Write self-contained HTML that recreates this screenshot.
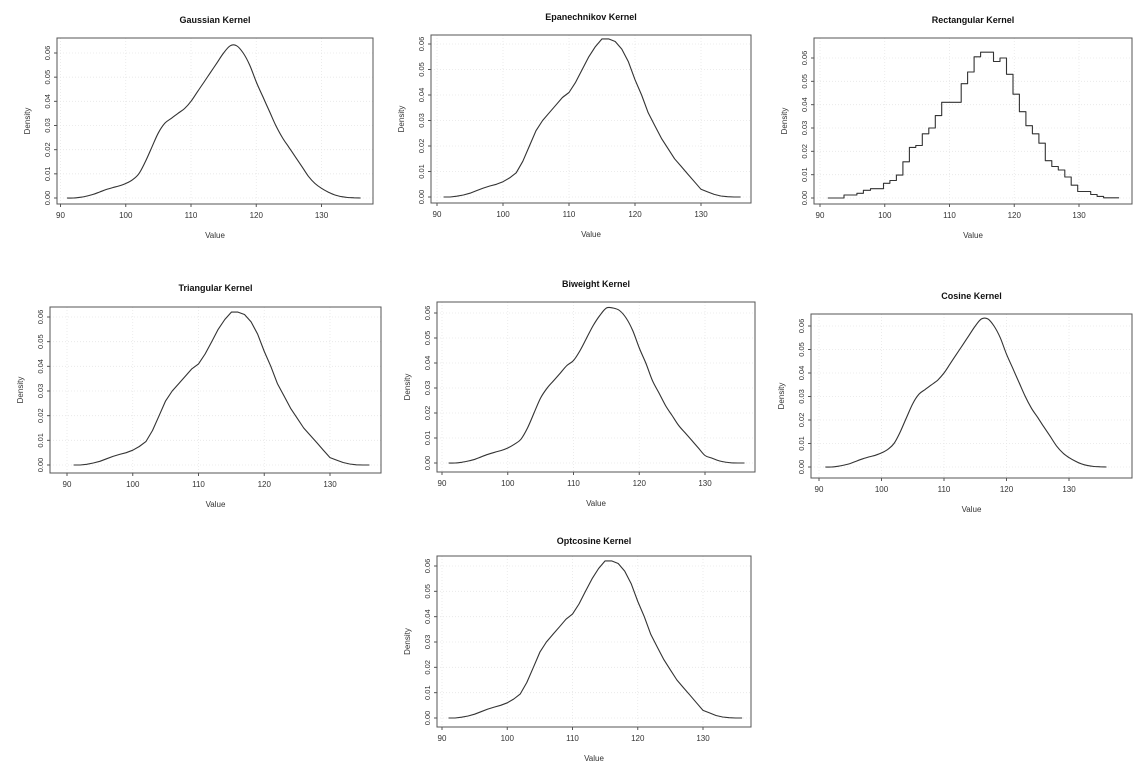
<!DOCTYPE html>
<html><head><meta charset="utf-8"><style>
body{margin:0;background:#fff;}
svg{display:block;font-family:"Liberation Sans",sans-serif;}
</style></head><body>
<svg id="c" width="1143" height="773"></svg>
<script>
const xValues=[91,92,93,94,95,96,97,98,99,100,101,102,103,104,105,106,107,108,109,110,111,112,113,114,115,116,117,118,119,120,121,122,123,124,125,126,127,128,129,130,131,132,133,134,135,136];
const gaussianDensity=[0,0,0.0003,0.0008,0.0015,0.0025,0.0035,0.0043,0.005,0.006,0.0075,0.01,0.015,0.021,0.027,0.031,0.033,0.035,0.037,0.040,0.044,0.048,0.052,0.056,0.060,0.063,0.063,0.060,0.055,0.048,0.042,0.036,0.030,0.025,0.021,0.017,0.013,0.009,0.006,0.004,0.0025,0.0013,0.0006,0.0002,0.0001,0];
const compactDensity=[0,0,0.0003,0.0008,0.0015,0.0025,0.0035,0.0043,0.005,0.006,0.0075,0.0095,0.014,0.020,0.026,0.030,0.033,0.036,0.039,0.041,0.045,0.050,0.055,0.059,0.062,0.062,0.061,0.058,0.053,0.046,0.040,0.033,0.028,0.023,0.019,0.015,0.012,0.009,0.006,0.003,0.002,0.001,0.0004,0.0001,0,0];
const rectStepX=[91.2,93.7,95.7,96.7,97.8,99.8,100.8,101.8,102.8,103.8,104.8,105.8,106.8,107.8,108.8,111.8,112.8,113.8,114.8,116.8,117.8,118.8,119.8,120.8,121.8,122.8,123.8,124.8,125.8,126.8,127.8,128.8,129.8,131.8,132.8,133.8,136.2];
const rectStepY=[0,0.0013,0.002,0.0033,0.004,0.0063,0.0075,0.0098,0.0155,0.0217,0.0225,0.0275,0.030,0.0353,0.041,0.049,0.054,0.0605,0.0625,0.0585,0.060,0.053,0.0445,0.037,0.031,0.0275,0.0235,0.016,0.0135,0.012,0.009,0.0055,0.0028,0.0015,0.0007,0.0001,0];
const xTicks=[90,100,110,120,130];
const yTicks=[0,0.01,0.02,0.03,0.04,0.05,0.06];
const yTickLabels=["0.00","0.01","0.02","0.03","0.04","0.05","0.06"];
const panels=[
 {t:"Gaussian Kernel",ty:20,b:[57,38,373,204],x90:60.5,x130:321.5,y0:198,y6:53,d:"g",s:1},
 {t:"Epanechnikov Kernel",ty:17,b:[431,35,751,203],x90:437,x130:701,y0:197,y6:44,d:"c",s:0},
 {t:"Rectangular Kernel",ty:20,b:[814,38,1132,204],x90:820,x130:1079,y0:198,y6:58,d:"r",s:0},
 {t:"Triangular Kernel",ty:288,b:[50,307,381,473],x90:67,x130:330,y0:465,y6:317,d:"c",s:0},
 {t:"Biweight Kernel",ty:284,b:[437,302,755,472],x90:442,x130:705,y0:463,y6:313,d:"c",s:1},
 {t:"Cosine Kernel",ty:296,b:[811,314,1132,478],x90:819,x130:1069,y0:467,y6:326,d:"g",s:1},
 {t:"Optcosine Kernel",ty:541,b:[437,556,751,727],x90:442,x130:703,y0:718,y6:566,d:"c",s:0}
];
const NS="http://www.w3.org/2000/svg";
const svg=document.getElementById('c');
function mk(tag,attrs,parent,text){const e=document.createElementNS(NS,tag);for(const k in attrs)e.setAttribute(k,attrs[k]);if(text!==undefined)e.textContent=text;parent.appendChild(e);return e;}
function smoothPath(pts){
 let d='M'+pts[0][0].toFixed(1)+','+pts[0][1].toFixed(1);
 for(let i=0;i<pts.length-1;i++){
  const p0=pts[Math.max(0,i-1)],p1=pts[i],p2=pts[i+1],p3=pts[Math.min(pts.length-1,i+2)];
  const c1=[p1[0]+(p2[0]-p0[0])/6,p1[1]+(p2[1]-p0[1])/6];
  const c2=[p2[0]-(p3[0]-p1[0])/6,p2[1]-(p3[1]-p1[1])/6];
  d+=' C'+c1.map(v=>v.toFixed(1)).join(',')+' '+c2.map(v=>v.toFixed(1)).join(',')+' '+p2.map(v=>v.toFixed(1)).join(',');
 }
 return d;
}
panels.forEach((p,i)=>{
 const slug=p.t.split(' ')[0].toLowerCase();
 const g=mk('g',{},svg);
 
 
 const xs=v=>p.x90+(v-90)*(p.x130-p.x90)/40;
 const ys=v=>p.y0-(v/0.06)*(p.y0-p.y6);
 const [l,t,r,b]=p.b;
 xTicks.forEach(v=>{const ln=mk('line',{x1:xs(v),x2:xs(v),y1:t,y2:b,stroke:'#e6e6e6','stroke-dasharray':'1,2','stroke-width':0.8},g);});
 yTicks.forEach(v=>{const ln=mk('line',{x1:l,x2:r,y1:ys(v),y2:ys(v),stroke:'#e6e6e6','stroke-dasharray':'1,2','stroke-width':0.8},g);});
 const box=mk('rect',{x:l,y:t,width:r-l,height:b-t,fill:'none',stroke:'#555','stroke-width':1},g);
 
 const ti=mk('text',{x:(l+r)/2,y:p.ty+3,'text-anchor':'middle','font-size':9,'font-weight':'bold',fill:'#111'},g,p.t);
 
 xTicks.forEach(v=>{mk('line',{x1:xs(v),x2:xs(v),y1:b,y2:b+3,stroke:'#555'},g);const tx=mk('text',{x:xs(v),y:b+14,'text-anchor':'middle','font-size':8,fill:'#333'},g,String(v));});
 yTicks.forEach((v,k)=>{mk('line',{x1:l-3,x2:l,y1:ys(v),y2:ys(v),stroke:'#555'},g);const tx=mk('text',{x:0,y:0,'text-anchor':'middle','font-size':7.5,fill:'#333',transform:`translate(${l-7},${ys(v)}) rotate(-90)`},g,yTickLabels[k]);});
 const xl=mk('text',{x:(l+r)/2,y:b+34,'text-anchor':'middle','font-size':8,fill:'#333'},g,'Value');
 
 const yl=mk('text',{x:0,y:0,'text-anchor':'middle','font-size':8,fill:'#333',transform:`translate(${l-27},${(t+b)/2}) rotate(-90)`},g,'Density');
 
 let pts=[];
 if(p.d==='r'){
  for(let k=0;k<rectStepX.length-1;k++){pts.push([xs(rectStepX[k]),ys(rectStepY[k])]);pts.push([xs(rectStepX[k+1]),ys(rectStepY[k])]);}
 } else {
  const arr=p.d==='g'?gaussianDensity:compactDensity;
  xValues.forEach((v,k)=>pts.push([xs(v),ys(arr[k])]));
 }
 let line;
 if(p.s){
  line=mk('path',{d:smoothPath(pts),fill:'none',stroke:'#333','stroke-width':1.1},g);
 } else {
  line=mk('polyline',{points:pts.map(q=>q[0].toFixed(1)+','+q[1].toFixed(1)).join(' '),fill:'none',stroke:'#333','stroke-width':1.1,'stroke-linejoin':'round'},g);
 }
 
 
});
</script>
</body></html>
